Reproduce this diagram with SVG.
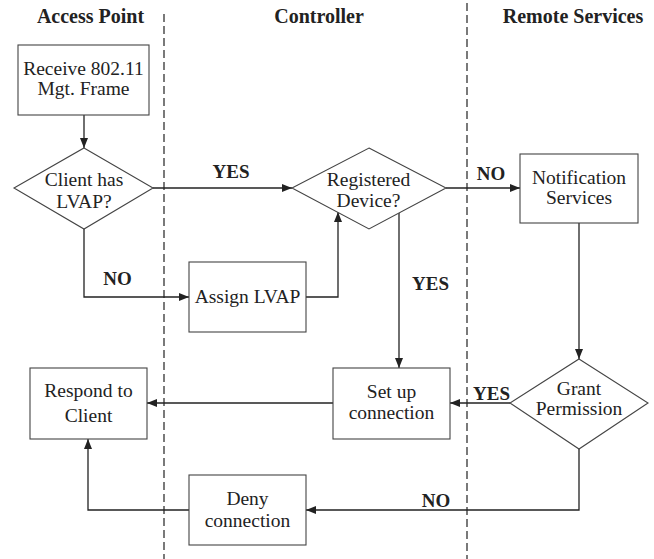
<svg xmlns="http://www.w3.org/2000/svg" width="654" height="559" viewBox="0 0 654 559">
<defs>
<marker id="ah" viewBox="0 0 10 8" refX="10" refY="4" markerWidth="10" markerHeight="8" markerUnits="userSpaceOnUse" orient="auto">
<path d="M0,0 L10,4 L0,8 Z" fill="#222"/>
</marker>
<style>
text{font-family:'Liberation Serif','DejaVu Serif','Times New Roman',serif;font-size:19.5px;fill:#222;text-anchor:middle}
.h{font-weight:bold;font-size:19px}
.ti{font-weight:bold;font-size:20px}
.n{fill:#fff;stroke:#444;stroke-width:1.1}
.c{fill:none;stroke:#222;stroke-width:1.3}
.d{stroke:#222;stroke-width:1.2;stroke-dasharray:8 4;fill:none}
</style>
</defs>
<rect width="654" height="559" fill="#fff"/>
<g id="lanes">
<line class="d" x1="164" y1="14" x2="164" y2="559"/>
<line class="d" x1="467" y1="3" x2="467" y2="559"/>
<text class="ti" x="90.5" y="23">Access Point</text>
<text class="ti" x="319" y="23">Controller</text>
<text class="ti" x="573" y="23">Remote Services</text>
</g>
<g id="connectors">
<path class="c" d="M84,115 V148" marker-end="url(#ah)"/>
<path class="c" d="M153,188 H292" marker-end="url(#ah)"/>
<path class="c" d="M84,229 V297 H189" marker-end="url(#ah)"/>
<path class="c" d="M306,297 H338 V212" marker-end="url(#ah)"/>
<path class="c" d="M446,188 H520" marker-end="url(#ah)"/>
<path class="c" d="M399,213 V368" marker-end="url(#ah)"/>
<path class="c" d="M579,223 V359" marker-end="url(#ah)"/>
<path class="c" d="M510,403 H450" marker-end="url(#ah)"/>
<path class="c" d="M333,403 H147" marker-end="url(#ah)"/>
<path class="c" d="M579,449 V510 H306" marker-end="url(#ah)"/>
<path class="c" d="M189,510 H88 V439" marker-end="url(#ah)"/>
<text class="h" x="231" y="178">YES</text>
<text class="h" x="117.5" y="285">NO</text>
<text class="h" x="491" y="180">NO</text>
<text class="h" x="430.5" y="290">YES</text>
<text class="h" x="491.5" y="400">YES</text>
<text class="h" x="436" y="507">NO</text>
</g>
<g id="receive">
<rect class="n" x="18" y="45" width="131" height="70"/>
<text x="83.5" y="75">Receive 802.11</text>
<text x="83.5" y="95">Mgt. Frame</text>
</g>
<g id="client-has-lvap">
<polygon class="n" points="84,148 153,188 84,229 14,188"/>
<text x="84" y="186">Client has</text>
<text x="84" y="208">LVAP?</text>
</g>
<g id="registered-device">
<polygon class="n" points="369,148 446,188 369,229 292,188"/>
<text x="368.5" y="186">Registered</text>
<text x="368.5" y="207">Device?</text>
</g>
<g id="notification">
<rect class="n" x="520" y="154" width="118" height="69"/>
<text x="579" y="184">Notification</text>
<text x="579" y="204">Services</text>
</g>
<g id="assign-lvap">
<rect class="n" x="189" y="262" width="117" height="70"/>
<text x="247.5" y="303">Assign LVAP</text>
</g>
<g id="set-up">
<rect class="n" x="333" y="368" width="117" height="71"/>
<text x="391.5" y="398">Set up</text>
<text x="391.5" y="419">connection</text>
</g>
<g id="grant">
<polygon class="n" points="579,359 648,403 579,449 510,403"/>
<text x="579" y="395">Grant</text>
<text x="579" y="415">Permission</text>
</g>
<g id="respond">
<rect class="n" x="30" y="368" width="117" height="71"/>
<text x="88.5" y="397">Respond to</text>
<text x="88.5" y="422">Client</text>
</g>
<g id="deny">
<rect class="n" x="189" y="475" width="117" height="70"/>
<text x="247.5" y="505">Deny</text>
<text x="247.5" y="527">connection</text>
</g>
</svg>
